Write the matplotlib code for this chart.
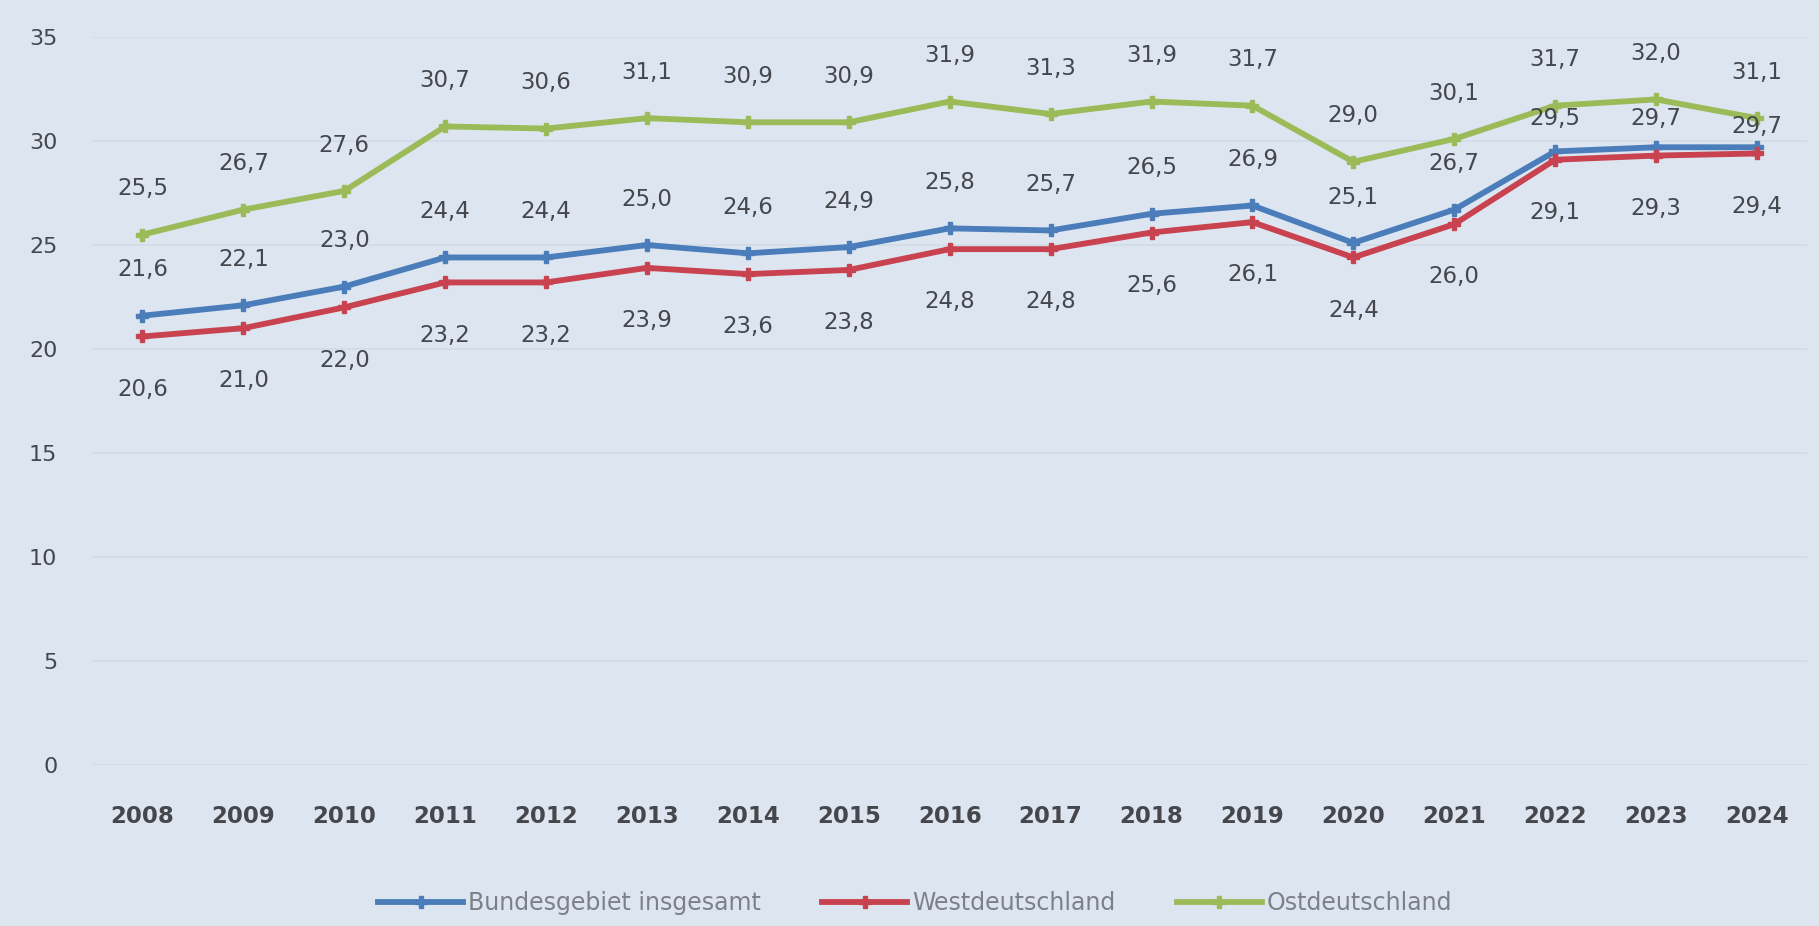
import matplotlib.pyplot as plt
import numpy as np

years = ['2008', '2009', '2010', '2011', '2012', '2013', '2014', '2015', '2016',
         '2017', '2018', '2019', '2020', '2021', '2022', '2023', '2024']
bund = [21.6, 22.1, 23.0, 24.4, 24.4, 25.0, 24.6, 24.9, 25.8, 25.7, 26.5, 26.9,
        25.1, 26.7, 29.5, 29.7, 29.7]
west = [20.6, 21.0, 22.0, 23.2, 23.2, 23.9, 23.6, 23.8, 24.8, 24.8, 25.6, 26.1,
        24.4, 26.0, 29.1, 29.3, 29.4]
ost = [25.5, 26.7, 27.6, 30.7, 30.6, 31.1, 30.9, 30.9, 31.9, 31.3, 31.9, 31.7,
       29.0, 30.1, 31.7, 32.0, 31.1]
names = ['Bundesgebiet insgesamt', 'Westdeutschland', 'Ostdeutschland']

bg = '#dde6f0'
txt = '#45474d'

# label offsets in points (blue labels sit closer to the line at the end)
off_bund = [33] * 14 + [24, 21, 15]
off_west = [-38] * 17
off_ost = [33] * 17

fig = plt.figure(figsize=(18.19, 9.26), dpi=100, facecolor=bg)
ax = fig.add_axes([0.0506, 0.174, 0.943, 0.786], facecolor=bg)

x = np.arange(len(years))
series = [(bund, '#4a7dba', off_bund), (west, '#c8434f', off_west), (ost, '#9bbb59', off_ost)]
lines = []
for vals, col, offs in series:
    l, = ax.plot(x, vals, color=col, lw=4.2, marker='P', ms=8, mec=col, mfc=col, zorder=3)
    lines.append(l)
    for xi, v, o in zip(x, vals, offs):
        ax.annotate(('%.1f' % v).replace('.', ','), (xi, v), xytext=(0, o),
                    textcoords='offset points', ha='center', va='center',
                    fontsize=16.5, color=txt, zorder=4)

ax.set_xlim(-0.5, len(years) - 0.5)
ax.set_ylim(0, 35)
ax.set_yticks(range(0, 36, 5))
ax.set_xticks(x)
ax.set_xticklabels(years, fontsize=16.5, color=txt, fontweight='bold')
ax.tick_params(axis='y', labelsize=16, labelcolor=txt, length=0, pad=25)
ax.tick_params(axis='x', length=0, pad=29)
ax.grid(axis='y', color='#d2dbe6', lw=1.2)
ax.set_axisbelow(True)
for s in ax.spines.values():
    s.set_visible(False)

fig.legend(lines, names, loc='center', bbox_to_anchor=(0.503, 0.025), ncol=3,
           frameon=False, fontsize=17, labelcolor='#7d8088', handlelength=3.6,
           columnspacing=2.6, handletextpad=0.2)

fig.savefig('out.png', dpi=100, facecolor=bg)
